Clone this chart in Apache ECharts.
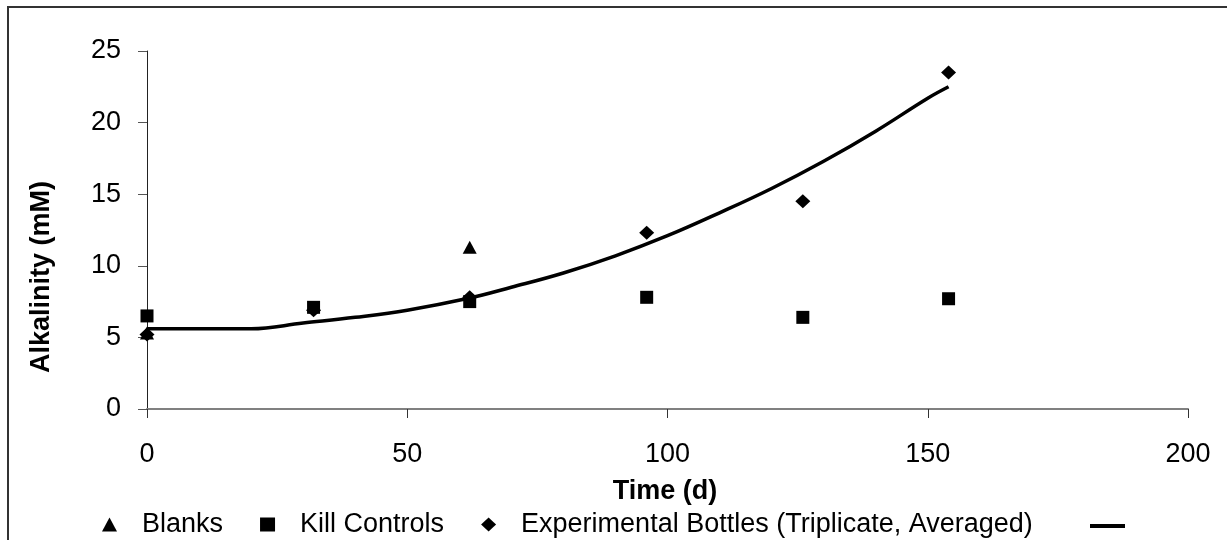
<!DOCTYPE html>
<html>
<head>
<meta charset="utf-8">
<title>Alkalinity over time</title>
<script src="https://cdn.jsdelivr.net/npm/echarts@6/dist/echarts.min.js"></script>
<style>
  html, body { margin: 0; padding: 0; background: #fff; }
  #chart { width: 1227px; height: 540px; }
</style>
</head>
<body>
<div id="chart"></div>
<script>
// measured data (days, mM)
var blankDays = [0, 62];
var blankValues = [5.3, 11.3];

var killDays = [0, 32, 62, 96, 126, 154];
var killValues = [6.5, 7.1, 7.5, 7.8, 6.4, 7.7];

var expDays = [0, 32, 62, 96, 126, 154];
var expValues = [5.2, 6.9, 7.8, 12.3, 14.5, 23.5];

// trendline
var trendDays = [0, 10, 20, 30, 40, 50, 62, 70, 80, 90, 100, 110, 120, 130, 140, 150, 154];
var trendValues = [5.6, 5.6, 5.6, 6.0, 6.4, 6.9, 7.75, 8.5, 9.5, 10.7, 12.1, 13.7, 15.4, 17.3, 19.4, 21.7, 22.5];

var xTicks = [0, 50, 100, 150, 200];
var yTicks = [0, 5, 10, 15, 20, 25];

function pairs(xs, ys) {
  return xs.map(function (x, i) { return [x, ys[i]]; });
}

var FONT = "'Liberation Sans', Arial, sans-serif";

var chart = echarts.init(document.getElementById("chart"));
chart.setOption({
  animation: false,
  backgroundColor: "#fff",
  grid: { left: 147, right: 39, top: 51, bottom: 131 },
  xAxis: {
    type: "value",
    min: xTicks[0],
    max: xTicks[xTicks.length - 1],
    interval: 50,
    splitLine: { show: false },
    axisLine: { lineStyle: { color: "#808080", width: 2 } },
    axisTick: { inside: false, length: 9, lineStyle: { color: "#333" } },
    axisLabel: { margin: 32, color: "#000", fontSize: 27, fontFamily: FONT }
  },
  yAxis: {
    type: "value",
    min: yTicks[0],
    max: yTicks[yTicks.length - 1],
    interval: 5,
    splitLine: { show: false },
    axisLine: { show: true, lineStyle: { color: "#222", width: 1 } },
    axisTick: { show: true, inside: false, length: 9, lineStyle: { color: "#555" } },
    axisLabel: { margin: 26, color: "#000", fontSize: 27, fontFamily: FONT }
  },
  legend: [
    {
      left: 102,
      top: 511,
      padding: 0,
      itemGap: 37,
      itemWidth: 15,
      itemHeight: 14,
      textStyle: { fontSize: 27, fontFamily: FONT, color: "#000", padding: [0, 0, 26, 20] },
      data: [
        { name: "Blanks", icon: "triangle" },
        { name: "Kill Controls", icon: "rect" },
        { name: "Experimental Bottles (Triplicate, Averaged)", icon: "diamond" }
      ]
    },
    {
      left: 1090,
      top: 513,
      padding: 0,
      itemWidth: 35,
      itemHeight: 4,
      textStyle: { fontSize: 26, fontFamily: FONT, color: "#000" },
      data: [{ name: " ", icon: "rect" }]
    }
  ],
  graphic: [
    {
      type: "rect",
      shape: { x: 8, y: 7, width: 1400, height: 700 },
      style: { fill: "none", stroke: "#333", lineWidth: 2 },
      silent: true
    },
    {
      type: "text",
      x: 42,
      y: 277,
      rotation: Math.PI / 2,
      style: {
        text: "Alkalinity (mM)",
        fontSize: 27,
        fontWeight: "bold",
        fontFamily: FONT,
        fill: "#000",
        align: "center",
        verticalAlign: "middle"
      }
    },
    {
      type: "text",
      x: 665,
      y: 492,
      style: {
        text: "Time (d)",
        fontSize: 27,
        fontWeight: "bold",
        fontFamily: FONT,
        fill: "#000",
        align: "center",
        verticalAlign: "middle"
      }
    }
  ],
  series: [
    {
      name: "Blanks",
      type: "scatter",
      symbol: "triangle",
      symbolSize: [14, 13],
      itemStyle: { color: "#000", opacity: 1 },
      data: pairs(blankDays, blankValues)
    },
    {
      name: "Kill Controls",
      type: "scatter",
      symbol: "rect",
      symbolSize: 13,
      itemStyle: { color: "#000", opacity: 1 },
      data: pairs(killDays, killValues)
    },
    {
      name: "Experimental Bottles (Triplicate, Averaged)",
      type: "scatter",
      symbol: "diamond",
      symbolSize: [15, 14],
      itemStyle: { color: "#000", opacity: 1 },
      data: pairs(expDays, expValues)
    },
    {
      name: " ",
      type: "line",
      smooth: 0.4,
      showSymbol: false,
      symbol: "none",
      lineStyle: { color: "#000", width: 3.5 },
      itemStyle: { color: "#000" },
      z: 3,
      data: pairs(trendDays, trendValues)
    }
  ]
});
</script>
</body>
</html>
